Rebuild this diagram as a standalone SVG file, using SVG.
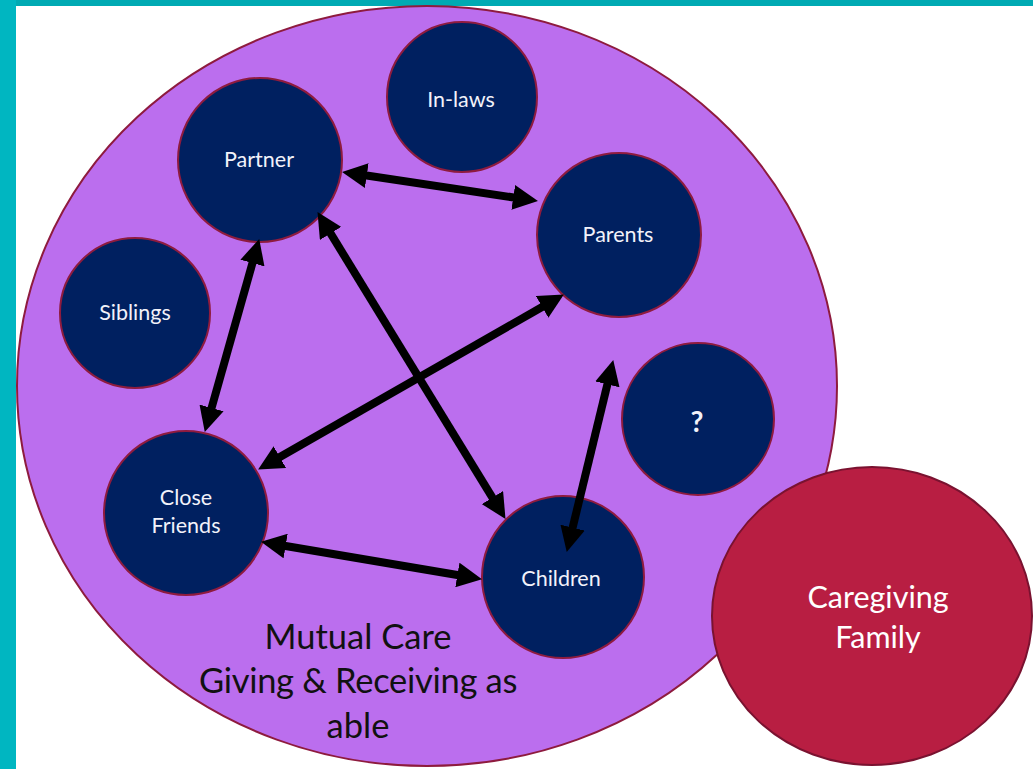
<svg xmlns="http://www.w3.org/2000/svg" width="1033" height="769" viewBox="0 0 1033 769">
  <style>
    .node { fill: #002060; stroke: #8E1B3E; stroke-width: 2; }
    .label { fill: #F2F2FA; font-family: "Lato", "Liberation Sans", sans-serif; font-size: 21.5px; text-anchor: middle; }
    .label.mark { font-size: 28px; font-weight: bold; }
    .link { stroke: #000; stroke-width: 8; fill: none; marker-start: url(#head); marker-end: url(#head); }
    .big { font-family: "Lato", "Liberation Sans", sans-serif; text-anchor: middle; }
  </style>
  <defs>
    <marker id="head" viewBox="0 0 25 25" refX="12" refY="12.5" markerWidth="25" markerHeight="25" markerUnits="userSpaceOnUse" orient="auto-start-reverse">
      <path d="M0,0 L25,12.5 L0,25 z" fill="#000"/>
    </marker>
  </defs>

  <!-- page background and frame -->
  <rect x="0" y="0" width="1033" height="769" fill="#FFFFFF"/>
  <rect x="0" y="0" width="1033" height="6" fill="#00AAB3"/>
  <rect x="0" y="0" width="16" height="769" fill="#00B6C1"/>

  <!-- outer mutual care area -->
  <g id="mutual-care">
    <ellipse cx="427" cy="386" rx="410" ry="380" fill="#BB6EEE" stroke="#8E1B3E" stroke-width="2"/>
    <text class="big" x="358" y="649" font-size="34.5" fill="#111">Mutual Care</text>
    <text class="big" x="358" y="693" font-size="34.5" fill="#111" letter-spacing="-0.3">Giving &amp; Receiving as</text>
    <text class="big" x="358" y="738" font-size="34.5" fill="#111">able</text>
  </g>

  <!-- caregiving family -->
  <g id="caregiving-family">
    <ellipse cx="872" cy="616" rx="160" ry="149" fill="#B81E42" stroke="#7A1230" stroke-width="2"/>
    <text class="big" x="878" y="608" font-size="30.5" fill="#FFFFFF">Caregiving</text>
    <text class="big" x="878" y="648" font-size="30.5" fill="#FFFFFF">Family</text>
  </g>

  <g id="in-laws">
    <circle class="node" cx="462" cy="97" r="75"/>
    <text class="label" x="461" y="107">In-laws</text>
  </g>
  <g id="partner">
    <circle class="node" cx="260" cy="160" r="82"/>
    <text class="label" x="259" y="167">Partner</text>
  </g>
  <g id="parents">
    <circle class="node" cx="619" cy="235" r="82"/>
    <text class="label" x="618" y="242">Parents</text>
  </g>
  <g id="siblings">
    <circle class="node" cx="135" cy="313" r="75"/>
    <text class="label" x="135" y="320">Siblings</text>
  </g>
  <g id="close-friends">
    <circle class="node" cx="186" cy="513" r="82"/>
    <text class="label" x="186" y="505">Close</text>
    <text class="label" x="186" y="533">Friends</text>
  </g>
  <g id="unknown">
    <circle class="node" cx="698" cy="419" r="76"/>
    <text class="label mark" x="697" y="432">?</text>
  </g>
  <g id="children">
    <circle class="node" cx="563" cy="577" r="81"/>
    <text class="label" x="561" y="586">Children</text>
  </g>

  <!-- two-way connectors -->
  <g id="connectors">
    <line class="link" x1="354.9" y1="173.8" x2="525.1" y2="199.2"/>
    <line class="link" x1="255.7" y1="251.5" x2="208.3" y2="419.5"/>
    <line class="link" x1="324.3" y1="223.2" x2="498.7" y2="507.8"/>
    <line class="link" x1="552.6" y1="301.0" x2="269.4" y2="463.0"/>
    <line class="link" x1="610.2" y1="372.7" x2="569.8" y2="539.3"/>
    <line class="link" x1="273.8" y1="544.0" x2="469.2" y2="577.0"/>
  </g>
</svg>
